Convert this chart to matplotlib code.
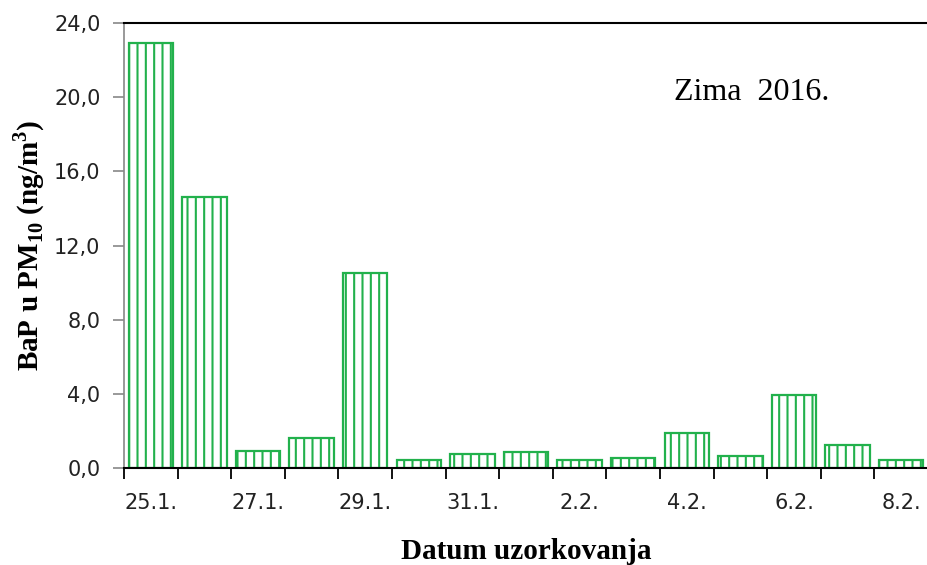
import matplotlib.pyplot as plt
import numpy as np

# BaP concentrations, winter 2016
dates = ['25.1.', '26.1.', '27.1.', '28.1.', '29.1.', '30.1.', '31.1.', '1.2.',
         '2.2.', '3.2.', '4.2.', '5.2.', '6.2.', '7.2.', '8.2.']
bap = [22.9, 14.6, 0.9, 1.6, 10.5, 0.43, 0.75, 0.88, 0.43, 0.54, 1.9, 0.65, 3.95, 1.22, 0.43]
yticks = [0, 4, 8, 12, 16, 20, 24]

green = '#22b14c'
plt.rcParams['hatch.linewidth'] = 1.5
plt.rcParams['hatch.color'] = green
plt.rcParams['mathtext.fontset'] = 'custom'
plt.rcParams['mathtext.rm'] = 'Liberation Serif:bold'
plt.rcParams['mathtext.bf'] = 'Liberation Serif:bold'

fig = plt.figure(figsize=(9.28, 5.65), dpi=100)
ax = fig.add_axes([124 / 928, 97 / 565, 804 / 928, 445 / 565])

x = np.arange(len(dates))
ax.bar(x, bap, width=0.83, color='white', edgecolor=green, linewidth=1.6, hatch='||')

ax.set_xlim(-0.5, 14.34)
ax.set_ylim(0, 24)

# major ticks at category boundaries, labels every other category
ax.set_xticks(np.arange(-0.5, 15, 1))
ax.set_xticklabels([])
ax.set_xticks(x[::2], minor=True)
ax.set_xticklabels(dates[::2], minor=True)
ax.tick_params(axis='x', which='major', direction='out', length=8, width=1.3, color='black')
ax.tick_params(axis='x', which='minor', length=0, pad=18, labelsize=15, labelcolor='#222222')

ax.set_yticks(yticks)
ax.set_yticklabels([f'{v:.1f}'.replace('.', ',') for v in yticks])
ax.tick_params(axis='y', direction='out', length=8, width=1.2, color='#888888',
               pad=9, labelsize=15, labelcolor='#222222')

ax.spines['right'].set_visible(False)
ax.spines['left'].set_color('#888888')
ax.spines['left'].set_linewidth(1.2)
ax.spines['bottom'].set_linewidth(1.5)
ax.spines['top'].set_linewidth(1.5)

serif = ['Liberation Serif', 'DejaVu Serif']
ax.set_xlabel('Datum uzorkovanja', family=serif, fontweight='bold', fontsize=21, labelpad=18)
ax.set_ylabel(r'BaP u PM$_{10}$ (ng/m$^{3}$)', family=serif, fontweight='bold',
              fontsize=21, labelpad=5)

ax.text(0.781, 0.843, 'Zima  2016.', transform=ax.transAxes, family=serif, fontsize=23,
        ha='center', va='center')

fig.savefig('out.png', dpi=100)
